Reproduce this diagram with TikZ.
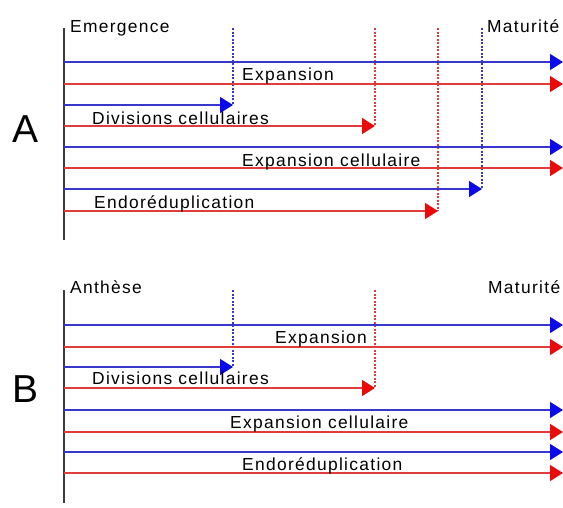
\documentclass[tikz,border=0pt]{standalone}
\usepackage{fontspec}
\setmainfont{Liberation Sans}[LetterSpace=7.5]
\newfontfamily\bigfont{Liberation Sans}
\usetikzlibrary{arrows.meta}
\definecolor{lblue}{RGB}{55,55,205}
\definecolor{lred}{RGB}{225,60,60}
\definecolor{tblue}{RGB}{10,10,235}
\definecolor{tred}{RGB}{235,10,10}
\definecolor{axisc}{RGB}{60,60,60}
\tikzset{
  bl/.style={draw=lblue,line width=1.5pt,-{Triangle[length=13pt,width=16pt,fill=tblue,color=tblue]}},
  rl/.style={draw=lred,line width=1.5pt,-{Triangle[length=13pt,width=16pt,fill=tred,color=tred]}},
  bdot/.style={draw=lblue,line width=1.4pt,dash pattern=on 2pt off 1.5pt},
  rdot/.style={draw=lred,line width=1.4pt,dash pattern=on 2pt off 1.5pt},
  axisline/.style={draw=axisc,line width=1.6pt},
  lab/.style={inner sep=0pt,anchor=base west,font=\fontsize{17.4}{20}\selectfont},
  panel/.style={inner sep=0pt,anchor=base west,font=\bigfont\fontsize{39}{44}\selectfont}
}
\begin{document}
\begin{tikzpicture}[x=1pt,y=-1pt]
\useasboundingbox (0,0) rectangle (563,507);
% ---------- Panel A ----------
\node[panel] (A) at (12,142) {A};
\coordinate (aTop) at (64,28);
\coordinate (aBot) at (64,240);
\draw[axisline] (aTop) -- (aBot);
\node[lab] (emer) at (70,32) {Emergence};
\node[lab] (matA) at (487,32) {Maturité};
% lines
\coordinate (a1s) at (64,62);  \coordinate (a1e) at (563,62);
\coordinate (a2s) at (64,84);  \coordinate (a2e) at (563,84);
\coordinate (a3s) at (64,105); \coordinate (a3e) at (233,105);
\coordinate (a4s) at (64,126); \coordinate (a4e) at (375,126);
\coordinate (a5s) at (64,147); \coordinate (a5e) at (563,147);
\coordinate (a6s) at (64,168); \coordinate (a6e) at (563,168);
\coordinate (a7s) at (64,189); \coordinate (a7e) at (482,189);
\coordinate (a8s) at (64,211); \coordinate (a8e) at (438,211);
\coordinate (d1t) at (233,28); \coordinate (d2t) at (375,28);
\coordinate (d3t) at (482,28); \coordinate (d4t) at (438,28);
\draw[bdot] (d1t) -- (a3e);
\draw[rdot] (d2t) -- (a4e);
\draw[bdot] (d3t) -- (a7e);
\draw[rdot] (d4t) -- (a8e);
\draw[bl] (a1s) -- (a1e);
\draw[rl] (a2s) -- (a2e);
\draw[bl] (a3s) -- (a3e);
\draw[rl] (a4s) -- (a4e);
\draw[bl] (a5s) -- (a5e);
\draw[rl] (a6s) -- (a6e);
\draw[bl] (a7s) -- (a7e);
\draw[rl] (a8s) -- (a8e);
\node[lab] (expA) at (242,80) {Expansion};
\node[lab] (divA) at (92,124) {Divisions cellulaires};
\node[lab] (expcA) at (242,166) {Expansion cellulaire};
\node[lab] (endoA) at (94,208) {Endoréduplication};
% ---------- Panel B ----------
\node[panel] (B) at (12,402) {B};
\coordinate (bTop) at (64,290);
\coordinate (bBot) at (64,503);
\draw[axisline] (bTop) -- (bBot);
\node[lab] (anth) at (70,293) {Anthèse};
\node[lab] (matB) at (488,293) {Maturité};
\coordinate (b1s) at (64,325); \coordinate (b1e) at (563,325);
\coordinate (b2s) at (64,347); \coordinate (b2e) at (563,347);
\coordinate (b3s) at (64,367); \coordinate (b3e) at (233,367);
\coordinate (b4s) at (64,388); \coordinate (b4e) at (375,388);
\coordinate (b5s) at (64,410); \coordinate (b5e) at (563,410);
\coordinate (b6s) at (64,432); \coordinate (b6e) at (563,432);
\coordinate (b7s) at (64,452); \coordinate (b7e) at (563,452);
\coordinate (b8s) at (64,473); \coordinate (b8e) at (563,473);
\coordinate (e1t) at (233,290); \coordinate (e2t) at (375,290);
\draw[bdot] (e1t) -- (b3e);
\draw[rdot] (e2t) -- (b4e);
\draw[bl] (b1s) -- (b1e);
\draw[rl] (b2s) -- (b2e);
\draw[bl] (b3s) -- (b3e);
\draw[rl] (b4s) -- (b4e);
\draw[bl] (b5s) -- (b5e);
\draw[rl] (b6s) -- (b6e);
\draw[bl] (b7s) -- (b7e);
\draw[rl] (b8s) -- (b8e);
\node[lab] (expB) at (275,343) {Expansion};
\node[lab] (divB) at (92,384) {Divisions cellulaires};
\node[lab] (expcB) at (230,428) {Expansion cellulaire};
\node[lab] (endoB) at (242,470) {Endoréduplication};
\end{tikzpicture}
\end{document}
